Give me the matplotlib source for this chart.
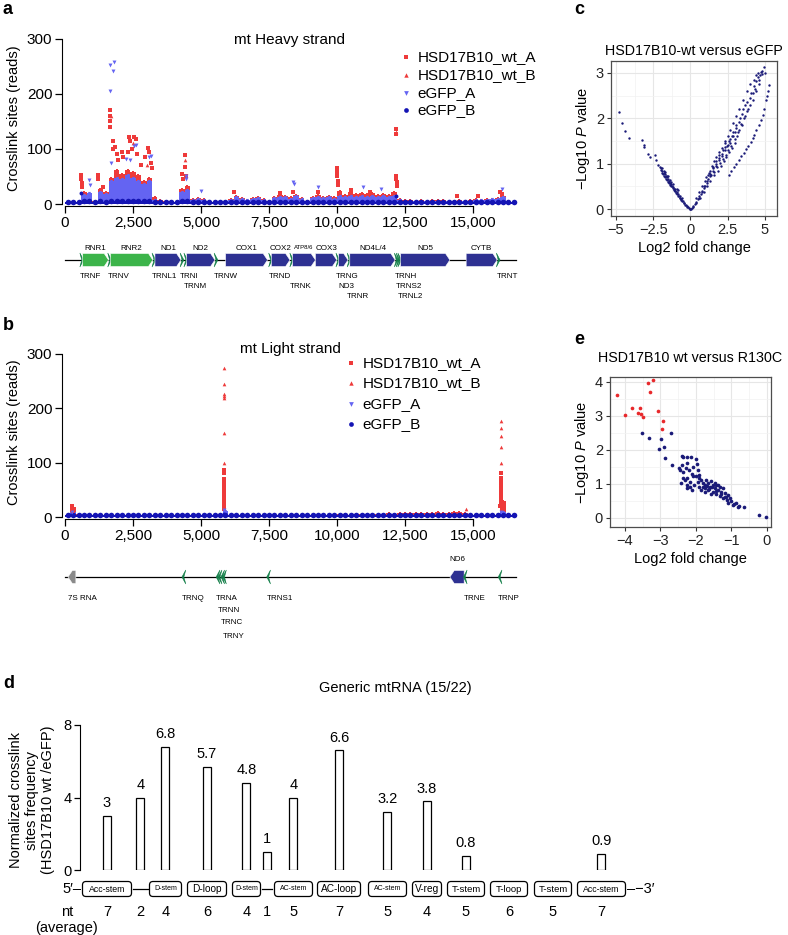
import matplotlib.pyplot as plt
import numpy as np
from matplotlib.patches import Polygon, FancyBboxPatch

plt.rcParams['font.family'] = ['Liberation Sans', 'DejaVu Sans']
plt.rcParams['mathtext.fontset'] = 'custom'
plt.rcParams['mathtext.rm'] = 'Liberation Sans'
plt.rcParams['mathtext.it'] = 'Liberation Sans:italic'

# ---------------- data ----------------
# crosslink reads per 200 bp bin (bin starts 0, 200, ..., 16400)
bin_start = np.arange(0, 16600, 200)

heavy_wt = [1, 1, 2, 22, 18, 5, 28, 22, 48, 62, 55, 62, 58, 52, 42, 48, 12, 7, 6, 5,
            4, 28, 32, 9, 11, 9, 6, 4, 1, 3, 9, 15, 11, 8, 11, 13, 9, 5, 13, 16,
            14, 12, 17, 11, 6, 13, 16, 13, 14, 12, 24, 16, 21, 19, 20, 18, 20, 16, 19, 17,
            22, 10, 8, 7, 6, 8, 6, 7, 8, 7, 6, 5, 7, 6, 8, 9, 8, 9, 9, 11,
            15, 6, 3]
heavy_gfp = [1, 1, 1, 16, 20, 3, 22, 18, 42, 48, 45, 52, 48, 42, 36, 42, 8, 5, 4, 4,
             3, 22, 26, 7, 9, 7, 5, 3, 1, 2, 7, 12, 9, 7, 9, 11, 8, 4, 11, 13,
             12, 10, 15, 9, 5, 11, 13, 11, 12, 10, 14, 12, 14, 13, 14, 13, 15, 12, 14, 12,
             14, 8, 6, 5, 5, 6, 5, 6, 6, 5, 5, 4, 5, 5, 6, 7, 7, 8, 9, 10,
             12, 5, 2]
heavy_gfp_b = [3, 3, 3, 6, 5, 3, 5, 4, 5, 5, 5, 5, 5, 5, 5, 5, 4, 3, 3, 3,
               3, 5, 5, 4, 4, 4, 3, 3, 3, 3, 4, 4, 4, 4, 4, 4, 4, 3, 4, 4,
               4, 4, 4, 4, 3, 4, 4, 4, 4, 4, 4, 4, 4, 4, 4, 4, 4, 4, 4, 4,
               4, 4, 4, 4, 4, 4, 4, 4, 4, 4, 4, 4, 4, 4, 4, 4, 4, 4, 4, 4,
               4, 4, 3]

light_wt = [3, 18, 5, 2, 1, 2, 1, 1, 2, 1, 1, 2, 1, 1, 2, 1, 1, 2, 1, 1,
            2, 1, 2, 1, 1, 2, 1, 2, 2, 8, 2, 1, 2, 1, 2, 1, 1, 2, 1, 2,
            2, 2, 3, 2, 3, 3, 3, 3, 4, 4, 5, 5, 4, 6, 5, 6, 5, 6, 6, 7,
            6, 8, 7, 8, 7, 8, 8, 7, 9, 8, 8, 9, 10, 7, 3, 3, 3, 3, 3, 4,
            30, 6, 3]
light_gfp = [3, 10, 4, 3, 3, 3, 3, 3, 3, 3, 3, 3, 3, 3, 3, 3, 3, 3, 3, 3,
             3, 3, 3, 3, 3, 3, 3, 3, 3, 12, 3, 3, 3, 3, 3, 3, 3, 3, 3, 3,
             3, 3, 3, 3, 3, 3, 3, 3, 3, 3, 3, 3, 4, 3, 4, 3, 4, 4, 3, 4,
             4, 4, 4, 4, 4, 4, 4, 4, 4, 4, 4, 4, 4, 4, 3, 3, 3, 3, 4, 4,
             10, 4, 4]
light_gfp_b = [3, 4, 3, 3, 3, 3, 3, 3, 3, 3, 3, 3, 3, 3, 3, 3, 3, 3, 3, 3,
               3, 3, 3, 3, 3, 3, 3, 3, 3, 4, 3, 3, 3, 3, 3, 3, 3, 3, 3, 3,
               3, 3, 3, 3, 3, 3, 3, 3, 3, 3, 3, 3, 3, 3, 3, 3, 3, 3, 3, 3,
               3, 3, 3, 3, 3, 3, 3, 3, 3, 3, 3, 3, 3, 3, 3, 3, 3, 3, 3, 3,
               4, 3, 3]

# individual high crosslink sites (position, reads)
heavy_wtA_pos = [600, 600, 610, 620, 1200, 1200, 1380, 1650, 1650, 1660, 1670, 1750, 1760, 1850,
                 1900, 1950, 2100, 2150, 2300, 2350, 2400, 2450, 2550, 2600, 2650, 2800, 2950,
                 3050, 3100, 3150, 3200, 4300, 4350, 4400, 4420, 4430, 6200, 7900, 8400, 9300,
                 9990, 9990, 10000, 10010, 10020, 10020, 10500, 11200, 12150, 12150, 12160,
                 12180, 12200, 12220, 14400, 15200, 16000, 16050]
heavy_wtA_val = [53, 45, 38, 30, 53, 45, 30, 170, 160, 150, 140, 115, 100, 104,
                 90, 80, 95, 85, 95, 122, 115, 100, 122, 118, 90, 70, 85,
                 101, 95, 75, 65, 55, 45, 89, 67, 50, 22, 20, 22, 22,
                 65, 60, 55, 50, 42, 35, 25, 22, 137, 127, 50,
                 45, 40, 32, 15, 15, 22, 18]
heavy_wtB_pos = [1700, 2500, 4400, 12150, 3000]
heavy_wtB_val = [160, 110, 80, 130, 70]
heavy_gfpA_pos = [900, 920, 1650, 1790, 1780, 1650, 1700, 2250, 2550, 2600, 2400, 3150, 3100,
                  4450, 4450, 5000, 8400, 8420, 9300, 10950, 11600, 16050]
heavy_gfpA_val = [44, 35, 252, 257, 242, 206, 75, 82, 105, 108, 80, 88, 85,
                  50, 45, 23, 40, 36, 30, 30, 28, 28]
heavy_gfpB_pos = [600, 12180]
heavy_gfpB_val = [20, 15]

light_wtA_pos = [250, 250, 300] + [5840] * 11 + [16030] * 11 + [16000, 16060]
light_wtA_val = [20, 15, 12, 87, 80, 70, 62, 55, 48, 40, 33, 26, 20, 15,
                 80, 72, 65, 60, 55, 50, 45, 40, 35, 30, 25, 20, 18]
light_wtB_pos = [5840, 5840, 5840, 5840, 5840, 5840, 5840, 16030, 16030, 16030, 16030, 16030, 14740]
light_wtB_val = [274, 244, 226, 222, 218, 154, 100, 176, 163, 148, 128, 100, 15]
light_gfpA_pos = [5840, 5840, 16030, 250]
light_gfpA_val = [13, 9, 10, 10]
light_gfpB_pos = [5840]
light_gfpB_val = [5]

series_labels = ['HSD17B10_wt_A', 'HSD17B10_wt_B', 'eGFP_A', 'eGFP_B']

# mitochondrial genome annotation (name, start, end, kind)
heavy_genes = [('TRNF', 577, 647, 't'), ('RNR1', 648, 1601, 'r'), ('TRNV', 1602, 1670, 't'),
               ('RNR2', 1671, 3229, 'r'), ('TRNL1', 3230, 3304, 't'), ('ND1', 3307, 4262, 'c'),
               ('TRNI', 4263, 4331, 't'), ('TRNM', 4402, 4469, 't'), ('ND2', 4470, 5511, 'c'),
               ('TRNW', 5512, 5579, 't'), ('COX1', 5904, 7445, 'c'), ('TRND', 7518, 7585, 't'),
               ('COX2', 7586, 8269, 'c'), ('TRNK', 8295, 8364, 't'), ('ATP8/6', 8366, 9207, 'c'),
               ('COX3', 9207, 9990, 'c'), ('TRNG', 9991, 10058, 't'), ('ND3', 10059, 10404, 'c'),
               ('TRNR', 10405, 10469, 't'), ('ND4L/4', 10470, 12137, 'c'), ('TRNH', 12138, 12206, 't'),
               ('TRNS2', 12207, 12265, 't'), ('TRNL2', 12266, 12336, 't'), ('ND5', 12337, 14148, 'c'),
               ('CYTB', 14747, 15887, 'c'), ('TRNT', 15888, 15953, 't')]
heavy_top = ['RNR1', 'RNR2', 'ND1', 'ND2', 'COX1', 'COX2', 'ATP8/6', 'COX3', 'ND4L/4', 'ND5', 'CYTB']
heavy_below = {'TRNF': 0, 'TRNV': 0, 'TRNL1': 0, 'TRNI': 0, 'TRNM': 1, 'TRNW': 0, 'TRND': 0,
               'TRNK': 1, 'TRNG': 0, 'ND3': 1, 'TRNR': 2, 'TRNH': 0, 'TRNS2': 1, 'TRNL2': 2, 'TRNT': 0}

light_genes = [('7S RNA', 110, 400, 'g'), ('TRNQ', 4329, 4400, 't'), ('TRNA', 5587, 5655, 't'),
               ('TRNN', 5657, 5729, 't'), ('TRNC', 5761, 5826, 't'), ('TRNY', 5826, 5891, 't'),
               ('TRNS1', 7446, 7514, 't'), ('ND6', 14149, 14673, 'c'), ('TRNE', 14674, 14742, 't'),
               ('TRNP', 15956, 16023, 't')]
light_top = ['ND6']
light_below = {'7S RNA': 0, 'TRNQ': 0, 'TRNA': 0, 'TRNN': 1, 'TRNC': 2, 'TRNY': 3,
               'TRNS1': 0, 'TRNE': 0, 'TRNP': 0}

# volcano: HSD17B10-wt versus eGFP
c_fc = [-4.83, -4.57, -4.39, -4.16, -3.28, -3.12, -3.10, -2.87, -2.72, -2.39, -2.28, -2.16, -2.05,
        -2.0, -1.95, -1.92, -1.88, -1.85, -1.8, -1.77, -1.73, -1.7, -1.66, -1.62, -1.6, -1.56,
        -1.52, -1.49, -1.45, -1.42, -1.38, -1.35, -1.31, -1.28, -1.24, -1.2, -1.16, -1.12, -1.08,
        -1.04, -1.0, -0.96, -0.92, -0.88, -0.84, -0.8, -0.76, -0.72, -0.68, -0.64, -0.6, -0.55,
        -0.5, -0.45, -0.4, -0.35, -0.3, -0.25, -0.2, -0.15, -0.1, -0.05, 0.0,
        -1.05, -0.85, -1.3, -1.15, -1.5, -1.35, -1.7, -1.55, -1.9, -1.75, -0.7, -0.55, -0.9,
        0.05, 0.1, 0.15, 0.2, 0.3, 0.35, 0.4, 0.5, 0.55, 0.6, 0.7, 0.75, 0.8, 0.9, 0.95, 1.0,
        1.1, 1.15, 1.2, 1.3, 1.35, 1.4, 1.5, 1.55, 1.6, 1.7, 1.75, 1.8, 1.9, 1.95, 2.0, 2.1,
        2.15, 2.2, 2.3, 2.35, 2.4, 2.5, 2.55, 2.6, 2.7, 2.75, 2.8, 2.9, 3.0, 3.05, 3.1, 3.2,
        3.25, 3.35, 3.4, 3.5, 3.55, 3.65, 3.7, 3.8, 3.9, 4.0, 4.1, 4.2, 4.3, 4.4, 4.45, 4.55,
        4.7, 4.75, 4.85, 4.97, 4.6,
        0.4, 0.65, 0.6, 0.9, 0.8, 1.1, 1.0, 1.35, 1.2, 1.6, 1.3, 1.85, 1.45, 2.05, 1.6, 2.25,
        1.75, 2.4, 1.9, 2.6, 2.1, 2.8, 2.3, 3.0, 2.5, 3.15, 2.7, 3.3, 2.9, 3.45, 3.1, 3.6,
        3.3, 3.8, 3.55, 4.0, 3.8, 4.2, 4.0, 4.35, 4.25, 4.6, 4.55, 4.8, 5.0, 4.4, 1.05, 1.25,
        1.5, 1.7, 1.95, 2.2, 2.45, 2.65, 2.85, 3.0, 2.35,
        2.59, 2.75, 2.96, 3.1, 3.25, 3.4, 3.63, 3.75, 3.9, 4.05, 4.2, 4.3, 4.45, 4.6, 4.75,
        4.86, 4.95, 5.08, 5.15, 5.22, 5.3]
c_logp = [2.13, 1.89, 1.72, 1.56, 1.53, 1.41, 1.36, 1.21, 1.15, 1.19, 1.08, 0.97, 0.92,
          0.86, 0.90, 0.80, 0.84, 0.78, 0.80, 0.74, 0.77, 0.71, 0.73, 0.67, 0.70, 0.64,
          0.66, 0.60, 0.62, 0.57, 0.58, 0.53, 0.55, 0.50, 0.51, 0.47, 0.48, 0.43, 0.44,
          0.40, 0.41, 0.36, 0.37, 0.33, 0.33, 0.29, 0.29, 0.25, 0.25, 0.22, 0.21, 0.18,
          0.17, 0.14, 0.13, 0.10, 0.09, 0.07, 0.05, 0.04, 0.02, 0.01, 0.0,
          0.45, 0.42, 0.6, 0.55, 0.72, 0.65, 0.82, 0.74, 0.9, 0.85, 0.3, 0.25, 0.45,
          0.01, 0.03, 0.05, 0.07, 0.11, 0.14, 0.16, 0.22, 0.25, 0.28, 0.33, 0.38, 0.40, 0.46, 0.52, 0.50,
          0.58, 0.62, 0.66, 0.72, 0.78, 0.75, 0.85, 0.90, 0.82, 0.95, 1.0, 0.92, 1.08, 1.12, 1.02, 1.18,
          1.22, 1.10, 1.30, 1.36, 1.20, 1.42, 1.30, 1.50, 1.55, 1.40, 1.62, 1.70, 1.55, 1.78, 1.85, 1.70,
          1.92, 2.0, 1.88, 2.1, 2.2, 2.05, 2.3, 2.35, 2.2, 2.45, 2.55, 2.4, 2.72, 2.82, 2.6, 2.9,
          2.95, 3.02, 2.98, 3.13, 2.75,
          0.25, 0.25, 0.38, 0.38, 0.5, 0.5, 0.62, 0.62, 0.75, 0.75, 0.85, 0.85, 0.95, 0.95, 1.05, 1.05,
          1.15, 1.15, 1.25, 1.25, 1.35, 1.35, 1.45, 1.45, 1.6, 1.6, 1.75, 1.75, 1.9, 1.85, 2.05, 2.0,
          2.2, 2.15, 2.4, 2.3, 2.6, 2.55, 2.75, 2.65, 2.85, 2.85, 3.0, 3.05, 3.0, 2.95, 0.7, 0.8,
          0.92, 1.05, 1.2, 1.3, 1.4, 1.45, 1.6, 1.7, 1.5,
          0.75, 0.83, 0.93, 1.0, 1.08, 1.16, 1.23, 1.32, 1.40, 1.48, 1.56, 1.63, 1.74, 1.86, 1.96,
          2.07, 2.2, 2.4, 2.5, 2.6, 2.73]

# volcano: HSD17B10 wt versus R130C
e_sig_fc = [-4.22, -4.0, -3.81, -3.63, -3.58, -3.55, -3.5, -3.34, -3.2, -3.3, -3.06, -2.92, -2.95]
e_sig_logp = [3.61, 3.02, 3.22, 3.09, 3.22, 3.04, 2.95, 3.97, 4.05, 3.69, 3.15, 2.85, 2.62]
e_fc = [-3.51, -3.32, -2.99, -3.03, -2.9, -2.71, -2.87, -2.68,
        -2.40, -2.35, -2.24, -2.15, -2.0, -1.98, -2.07, -2.24, -2.4, -2.47, -2.45, -2.35,
        -2.28, -2.19, -2.12, -1.93, -2.37, -2.31, -2.24, -2.17, -2.43, -2.26, -2.07, -1.99,
        -1.92, -1.9, -1.85, -1.95, -2.04, -1.8, -1.75, -1.71, -1.66, -1.61, -1.57, -1.52,
        -1.47, -1.43, -1.38, -1.33, -1.29, -1.24, -1.19, -1.15, -1.1, -1.05, -1.0, -0.96,
        -0.86, -0.82, -0.64, -1.92, -1.85, -1.73, -1.63, -1.52, -1.43, -1.31, -1.22, -1.12,
        -1.73, -1.79, -1.67, -1.57, -1.47, -1.38, -2.1, -2.24, -2.17, -0.21, -0.02,
        -1.68, -1.55, -1.42, -1.3, -1.18, -1.08, -0.92, -0.78]
e_logp = [2.48, 2.35, 2.33, 2.02, 2.07, 2.48, 1.76, 1.55,
          1.81, 1.78, 1.78, 1.78, 1.72, 1.58, 1.5, 1.6, 1.55, 1.45, 1.41, 1.35,
          1.45, 1.41, 1.3, 1.4, 1.16, 1.11, 1.16, 1.04, 1.02, 0.97, 1.24, 1.22,
          1.27, 1.17, 1.12, 1.04, 0.97, 1.02, 0.97, 1.12, 1.02, 0.92, 1.07, 0.97,
          0.87, 0.97, 0.82, 0.92, 0.77, 0.87, 0.72, 0.62, 0.67, 0.57, 0.5, 0.38,
          0.43, 0.33, 0.31, 0.9, 0.82, 0.77, 0.85, 0.75, 0.71, 0.65, 0.58, 0.51,
          0.87, 0.92, 0.81, 0.71, 1.02, 0.97, 0.82, 0.87, 0.92, 0.08, 0.01,
          0.95, 0.9, 0.78, 0.7, 0.6, 0.45, 0.4, 0.35]

# generic mtRNA structure
seg_names = ['Acc-stem', '', 'D-stem', 'D-loop', 'D-stem', '', 'AC-stem', 'AC-loop',
             'AC-stem', 'V-reg', 'T-stem', 'T-loop', 'T-stem', 'Acc-stem']
seg_nt = [7, 2, 4, 6, 4, 1, 5, 7, 5, 4, 5, 6, 5, 7]
seg_freq = [3, 4, 6.8, 5.7, 4.8, 1, 4, 6.6, 3.2, 3.8, 0.8, None, None, 0.9]

# ---------------- layout / style ----------------
W, H = 788, 935
fig = plt.figure(figsize=(W / 100, H / 100), dpi=100)

RED = '#EE3A3A'
LBLUE = '#6464F2'
DBLUE = '#1414B4'
NAVY = '#1A1A78'
C_CODE = '#2E3192'
C_RRNA = '#3CB44A'
C_TRNA = '#15804A'


def px_axes(x0, y0, x1, y1):
    return fig.add_axes([x0 / W, 1 - y1 / H, (x1 - x0) / W, (y1 - y0) / H])


XLIM = (-110, 16800)


def strand_panel(box, wt, gfp, gfpb, pk, leg_xy, leg_space):
    ax = px_axes(*box)
    centers = bin_start + 100
    ax.bar(centers, wt, width=200, color=RED, lw=0)
    ax.scatter(centers, wt, s=4, marker='s', color=RED, lw=0)
    ax.bar(centers, gfp, width=200, color=LBLUE, lw=0)
    ax.scatter(centers, gfp, s=5, marker='v', color=LBLUE, lw=0)
    ax.bar(centers, gfpb, width=200, color=DBLUE, lw=0)
    ax.scatter(centers, gfpb, s=16, marker='o', color=DBLUE, lw=0)
    h1 = ax.scatter(pk[0], pk[1], s=5, marker='s', color=RED, lw=0)
    h2 = ax.scatter(pk[2], pk[3], s=7, marker='^', color=RED, lw=0)
    h3 = ax.scatter(pk[4], pk[5], s=8, marker='v', color=LBLUE, lw=0)
    h4 = ax.scatter(pk[6], pk[7], s=8, marker='o', color=DBLUE, lw=0)
    ax.set_xlim(*XLIM)
    ax.set_ylim(-3.6, 316)
    for s in ['top', 'right']:
        ax.spines[s].set_visible(False)
    ax.spines['left'].set_bounds(0, 300)
    ax.spines['bottom'].set_bounds(0, 15000)
    xt = [0, 2500, 5000, 7500, 10000, 12500, 15000]
    ax.set_xticks(xt)
    ax.set_xticklabels([f'{t:,}' for t in xt])
    ax.set_yticks([0, 100, 200, 300])
    ax.tick_params(labelsize=11, length=5, width=0.9, pad=2)
    ax.set_ylabel('Crosslink sites (reads)', fontsize=10.5, labelpad=4)
    ax.legend([h1, h2, h3, h4], series_labels, loc='upper left',
              bbox_to_anchor=(leg_xy[0] / W, 1 - leg_xy[1] / H), bbox_transform=fig.transFigure,
              frameon=False, fontsize=11, handlelength=0.5, handletextpad=0.5,
              labelspacing=leg_space, borderpad=0, borderaxespad=0, markerscale=1.2)
    return ax


def gene_map(box, genes, top, below, line_y, rows_y, top_y, direction):
    ax = px_axes(*box)
    ax.set_xlim(*XLIM)
    ax.set_ylim(box[3], box[1])
    ax.axis('off')
    ax.plot([0, 16569], [line_y, line_y], color='black', lw=0.9, zorder=1)
    for name, s, e, kind in genes:
        col = {'c': C_CODE, 'r': C_RRNA, 't': C_TRNA, 'g': '#8A8A8A'}[kind]
        h = 13 if kind != 't' else 14
        if kind == 't':
            s, e = s - 30, e + 40
        tip = min(160, e - s)
        y0, y1 = line_y - h / 2, line_y + h / 2
        if direction > 0:
            pts = [(s, y0), (e - tip, y0), (e, line_y), (e - tip, y1), (s, y1)]
        else:
            pts = [(e, y0), (s + tip, y0), (s, line_y), (s + tip, y1), (e, y1)]
        if kind == 't':
            pts.append((s + tip * 0.5, line_y) if direction > 0 else (e - tip * 0.5, line_y))
        ax.add_patch(Polygon(pts, closed=True, facecolor=col, edgecolor='white' if kind != 't' else col,
                             lw=0.4, zorder=2))
        if name in top:
            fs = 4.3 if name == 'ATP8/6' else 5.8
            ax.text((s + e) / 2, top_y - (1 if name == 'ATP8/6' else 0), name, ha='center',
                    va='center', fontsize=fs)
        if name in below:
            ax.text(s, rows_y[below[name]], name, ha='left', va='center', fontsize=5.8)
    return ax


# panel a
ax_a = strand_panel((62, 30, 522, 206), heavy_wt, heavy_gfp, heavy_gfp_b,
                    (heavy_wtA_pos, heavy_wtA_val, heavy_wtB_pos, heavy_wtB_val,
                     heavy_gfpA_pos, heavy_gfpA_val, heavy_gfpB_pos, heavy_gfpB_val),
                    (402, 50), 0.25)
gene_map((62, 240, 522, 305), heavy_genes, heavy_top, heavy_below, 260, [277, 287, 297], 249, 1)

# panel b
ax_b = strand_panel((62, 345, 522, 519), light_wt, light_gfp, light_gfp_b,
                    (light_wtA_pos, light_wtA_val, light_wtB_pos, light_wtB_val,
                     light_gfpA_pos, light_gfpA_val, light_gfpB_pos, light_gfpB_val),
                    (347, 356), 0.42)
gene_map((62, 550, 522, 645), light_genes, light_top, light_below, 577, [598, 611, 623, 636], 560, -1)


def volcano(box, xlim, ylim, xt, yt, xminor, yminor, title, tpad):
    ax = px_axes(*box)
    ax.set_xlim(*xlim)
    ax.set_ylim(*ylim)
    ax.set_xticks(xt)
    ax.set_yticks(yt)
    ax.set_xticks(xminor, minor=True)
    ax.set_yticks(yminor, minor=True)
    ax.grid(True, which='major', color='#E6E6E6', lw=0.8)
    ax.grid(True, which='minor', color='#F2F2F2', lw=0.5)
    ax.set_axisbelow(True)
    ax.tick_params(which='major', labelsize=10.5, length=3, width=0.8, color='#333333',
                   labelcolor='#222222', pad=2)
    ax.tick_params(which='minor', length=0)
    for s in ax.spines.values():
        s.set_color('#4D4D4D')
        s.set_linewidth(0.9)
    ax.set_xlabel('Log2 fold change', fontsize=10.5, labelpad=3)
    ax.set_ylabel('\u2212Log10 $P$ value', fontsize=10.5, labelpad=3)
    ax.set_title(title, fontsize=10.3, pad=tpad)
    return ax


ax_c = volcano((611, 61, 777, 216), (-5.34, 5.83), (-0.15, 3.26), [-5, -2.5, 0, 2.5, 5], [0, 1, 2, 3],
               [-3.75, -1.25, 1.25, 3.75], [0.5, 1.5, 2.5], 'HSD17B10-wt versus eGFP', 4)
ax_c.set_xticklabels(['\u22125', '\u22122.5', '0', '2.5', '5'])
ax_c.scatter(c_fc, c_logp, s=3, color=NAVY, lw=0)

ax_e = volcano((610, 377, 771, 527), (-4.42, 0.12), (-0.27, 4.14), [-4, -3, -2, -1, 0], [0, 1, 2, 3, 4],
               [-3.5, -2.5, -1.5, -0.5], [0.5, 1.5, 2.5, 3.5], 'HSD17B10 wt versus R130C', 11)
ax_e.set_xticklabels(['\u22124', '\u22123', '\u22122', '\u22121', '0'])
ax_e.scatter(e_fc, e_logp, s=7, color=NAVY, lw=0)
ax_e.scatter(e_sig_fc, e_sig_logp, s=7, color='#E8282B', lw=0)

# panel d
seg_px = [(81, 133), (133, 148), (148, 183), (186, 228), (231, 262), (262, 272), (273, 314),
          (316, 362), (367, 408), (411, 443), (446, 486), (489, 529), (533, 573), (576, 627)]
seg_fs = [6.3, 0, 5.0, 7.3, 5.0, 0, 5.0, 7.3, 5.0, 7.3, 6.8, 6.8, 6.8, 6.3]
seg_mid = [(a + b) / 2 for a, b in seg_px]

ax_d = px_axes(0, 725, W, 870)
ax_d.set_xlim(0, W)
ax_d.set_ylim(0, 8)
bx = [m for m, f in zip(seg_mid, seg_freq) if f is not None]
bv = [f for f in seg_freq if f is not None]
ax_d.bar(bx, bv, width=8, facecolor='white', edgecolor='black', lw=0.9)
for x, v in zip(bx, bv):
    ax_d.annotate(f'{v:g}', (x, v), xytext=(0, 4), textcoords='offset points', ha='center',
                  va='bottom', fontsize=10.5)
for s in ['top', 'right', 'bottom']:
    ax_d.spines[s].set_visible(False)
ax_d.spines['left'].set_position(('data', 80))
ax_d.spines['left'].set_bounds(0, 8)
ax_d.set_xticks([])
ax_d.set_yticks([0, 4, 8])
ax_d.tick_params(labelsize=10.5, length=4, width=0.9, pad=2)
ax_d.patch.set_alpha(0)

# overlay in pixel coordinates for titles, structure row and panel letters
ov = fig.add_axes([0, 0, 1, 1])
ov.set_xlim(0, W)
ov.set_ylim(H, 0)
ov.axis('off')
ov.patch.set_alpha(0)
ov.text(290, 40, 'mt Heavy strand', ha='center', va='center', fontsize=11)
ov.text(290, 349, 'mt Light strand', ha='center', va='center', fontsize=11)
row_y = 889
ov.text(81, row_y, '5\u2032\u2013', ha='right', va='center', fontsize=10.5)
ov.text(627, row_y, '\u2013\u22123\u2032', ha='left', va='center', fontsize=10.5)
for (a, b), name, fs, nt, m in zip(seg_px, seg_names, seg_fs, seg_nt, seg_mid):
    if name:
        ov.add_patch(FancyBboxPatch((a + 1.5, row_y - 7.5), b - a - 3, 15,
                                    boxstyle='round,pad=0,rounding_size=3.5',
                                    facecolor='white', edgecolor='black', lw=0.9))
        ov.text(m, row_y, name, ha='center', va='center', fontsize=fs)
    else:
        ov.plot([a, b], [row_y, row_y], color='black', lw=0.9)
    ov.text(m, 912, str(nt), ha='center', va='center', fontsize=10.5)
ov.text(67, 912, 'nt', ha='center', va='center', fontsize=10.5)
ov.text(67, 928, '(average)', ha='center', va='center', fontsize=10.5)
ov.text(395, 688, 'Generic mtRNA (15/22)', ha='center', va='center', fontsize=10.5)
ov.text(32, 800, 'Normalized crosslink\nsites frequency\n(HSD17B10 wt /eGFP)', rotation=90,
        ha='center', va='center', fontsize=10.5, linespacing=1.15)

for letter, x, y in [('a', 3, 10), ('b', 3, 326), ('c', 574, 10), ('d', 3, 683), ('e', 574, 340)]:
    ov.text(x, y, letter, ha='left', va='center', fontsize=13, fontweight='bold')

fig.savefig('out.png', dpi=100)
